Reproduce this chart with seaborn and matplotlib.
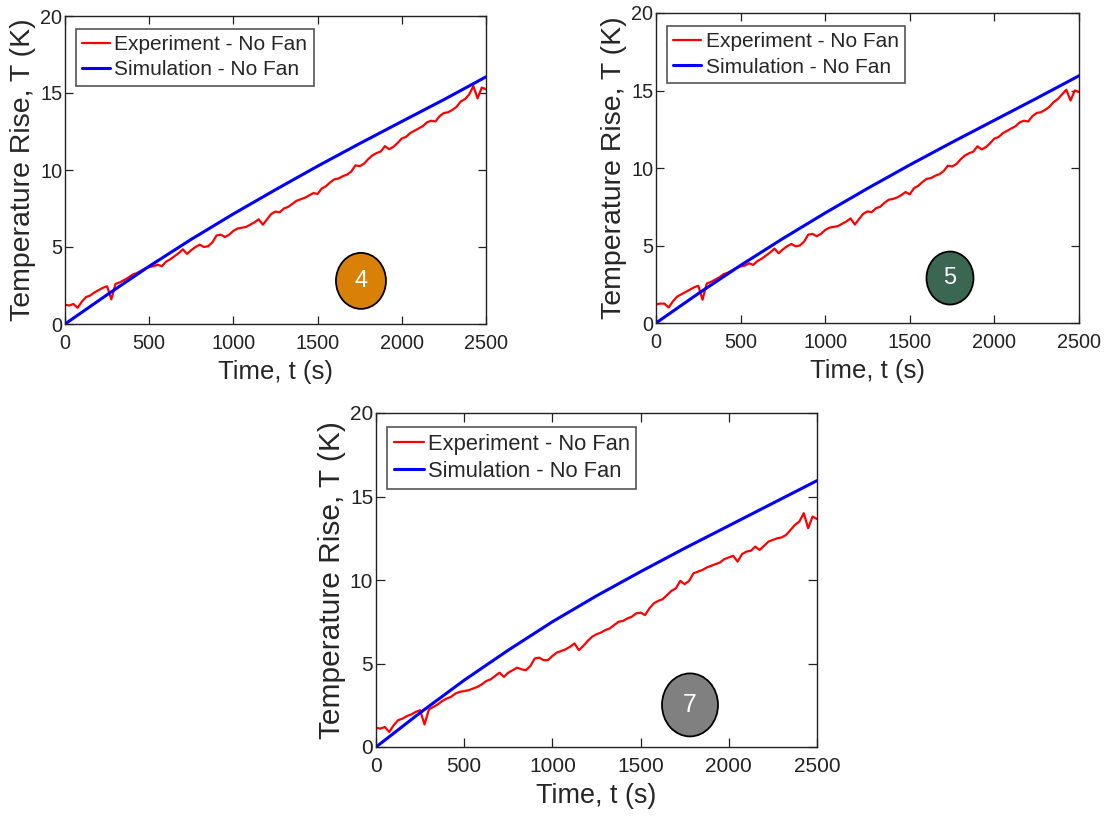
import numpy as np
import pandas as pd
import matplotlib
matplotlib.use("Agg")
import matplotlib.pyplot as plt
from matplotlib.patches import Ellipse
import seaborn as sns

# ---- measured temperature rise (K), sampled every 25 s ----
time_exp = list(range(0, 2501, 25))

exp_case4 = [
    1.25, 1.20, 1.30, 1.05, 1.45, 1.75, 1.85, 2.05, 2.20, 2.35,
    2.45, 1.60, 2.60, 2.70, 2.85, 3.00, 3.20, 3.30, 3.45, 3.60,
    3.70, 3.75, 3.85, 3.75, 4.05, 4.20, 4.40, 4.60, 4.85, 4.55,
    4.80, 5.00, 5.15, 5.00, 5.05, 5.30, 5.75, 5.80, 5.65, 5.80,
    6.05, 6.20, 6.25, 6.30, 6.45, 6.60, 6.80, 6.45, 6.80, 7.15,
    7.30, 7.25, 7.50, 7.60, 7.80, 8.00, 8.10, 8.20, 8.35, 8.50,
    8.45, 8.80, 8.95, 9.20, 9.40, 9.45, 9.60, 9.70, 9.90, 10.30,
    10.25, 10.40, 10.70, 10.95, 11.10, 11.20, 11.55, 11.35, 11.50, 11.75,
    12.05, 12.15, 12.40, 12.55, 12.70, 12.85, 13.10, 13.20, 13.15, 13.50,
    13.70, 13.75, 13.90, 14.10, 14.45, 14.60, 14.90, 15.45, 14.65, 15.35,
    15.25,
]

exp_case5 = [
    1.20, 1.25, 1.25, 1.00, 1.40, 1.70, 1.85, 2.00, 2.15, 2.30,
    2.40, 1.50, 2.55, 2.65, 2.80, 2.95, 3.15, 3.25, 3.40, 3.55,
    3.65, 3.70, 3.85, 3.75, 4.00, 4.15, 4.35, 4.55, 4.80, 4.50,
    4.75, 4.95, 5.10, 4.95, 5.00, 5.25, 5.70, 5.75, 5.60, 5.75,
    6.00, 6.15, 6.20, 6.25, 6.40, 6.55, 6.75, 6.35, 6.70, 7.05,
    7.20, 7.15, 7.40, 7.50, 7.75, 7.95, 8.00, 8.10, 8.25, 8.45,
    8.30, 8.70, 8.85, 9.10, 9.30, 9.35, 9.50, 9.60, 9.80, 10.15,
    10.10, 10.25, 10.55, 10.80, 10.95, 11.05, 11.40, 11.20, 11.35, 11.60,
    11.90, 12.00, 12.25, 12.40, 12.55, 12.70, 12.95, 13.05, 13.00, 13.35,
    13.55, 13.60, 13.75, 13.95, 14.25, 14.45, 14.75, 15.05, 14.35, 15.00,
    14.90,
]

exp_case7 = [
    1.15, 1.10, 1.20, 0.90, 1.30, 1.60, 1.70, 1.85, 1.95, 2.10,
    2.20, 1.35, 2.25, 2.40, 2.55, 2.75, 2.90, 3.00, 3.20, 3.30,
    3.35, 3.40, 3.50, 3.60, 3.75, 3.95, 4.05, 4.25, 4.45, 4.20,
    4.45, 4.60, 4.75, 4.65, 4.60, 4.85, 5.30, 5.35, 5.20, 5.20,
    5.45, 5.65, 5.75, 5.85, 6.00, 6.20, 5.80, 6.05, 6.35, 6.60,
    6.75, 6.85, 7.00, 7.10, 7.30, 7.50, 7.55, 7.70, 7.80, 8.00,
    8.05, 7.90, 8.30, 8.60, 8.75, 8.85, 9.10, 9.35, 9.50, 9.95,
    9.75, 9.95, 10.40, 10.50, 10.60, 10.75, 10.85, 10.95, 11.05, 11.25,
    11.35, 11.45, 11.10, 11.55, 11.70, 11.75, 12.00, 11.80, 12.05, 12.30,
    12.40, 12.50, 12.55, 12.70, 13.00, 13.30, 13.50, 14.00, 13.10, 13.80,
    13.65,
]

# ---- simulated temperature rise (K), sampled every 250 s ----
time_sim = list(range(0, 2501, 250))
sim_case4 = [0.0, 1.90, 3.75, 5.50, 7.15, 8.72, 10.25, 11.72, 13.15, 14.57, 16.05]
sim_case5 = [0.0, 1.90, 3.72, 5.45, 7.10, 8.68, 10.20, 11.66, 13.08, 14.50, 15.95]
sim_case7 = [0.0, 2.05, 4.00, 5.80, 7.50, 9.05, 10.50, 11.90, 13.25, 14.60, 15.95]

case_labels = ["4", "5", "7"]
badge_colors = ["#D98006", "#3B6652", "#808080"]
series_names = ["Experiment - No Fan", "Simulation - No Fan"]
line_colors = {"Experiment - No Fan": "#FF0000", "Simulation - No Fan": "#0000FF"}

x_ticks = [0, 500, 1000, 1500, 2000, 2500]
y_ticks = [0, 5, 10, 15, 20]

sns.set_style("ticks")
plt.rcParams["font.family"] = ["Liberation Sans", "DejaVu Sans"]

fig = plt.figure(figsize=(11.08, 8.17), dpi=100)
W, H = 1108, 817

# panel rectangles in pixels: left, top, right, bottom
panels = [
    dict(box=(65, 16, 486, 324), exp=exp_case4, sim=sim_case4, scale=1.0,
         badge=(0.703, 0.140, 50, 56)),
    dict(box=(656, 13, 1079, 323), exp=exp_case5, sim=sim_case5, scale=1.0,
         badge=(0.695, 0.145, 47, 53)),
    dict(box=(376, 413, 817, 747), exp=exp_case7, sim=sim_case7, scale=1.05,
         badge=(0.712, 0.126, 56, 63)),
]

for p, label, bcolor in zip(panels, case_labels, badge_colors):
    l, t, r, b = p["box"]
    s = p["scale"]
    ax = fig.add_axes([l / W, 1 - b / H, (r - l) / W, (b - t) / H])

    df = pd.concat([
        pd.DataFrame({"t": time_exp, "T": p["exp"], "series": series_names[0]}),
        pd.DataFrame({"t": time_sim, "T": p["sim"], "series": series_names[1]}),
    ], ignore_index=True)

    sns.lineplot(data=df, x="t", y="T", hue="series", hue_order=series_names,
                 palette=line_colors, ax=ax, estimator=None, sort=False)
    for line, lw in zip(ax.get_lines(), [1.6, 2.2]):
        line.set_linewidth(lw)

    ax.set_xlim(0, 2500)
    ax.set_ylim(0, 20)
    ax.set_xticks(x_ticks)
    ax.set_yticks(y_ticks)
    ax.tick_params(direction="in", length=6 * s, width=0.9, top=True, right=True,
                   labelsize=14.3 * s, colors="#222222")
    ax.tick_params(axis="x", pad=7)
    ax.tick_params(axis="y", pad=2)
    for sp in ax.spines.values():
        sp.set_visible(True)
        sp.set_linewidth(1.0)
        sp.set_color("#222222")

    ax.set_xlabel("Time, t (s)", fontsize=18.5 * s, labelpad=5)
    ax.set_ylabel("Temperature Rise, T (K)", fontsize=20.5 * s, labelpad=3)

    handles, labels = ax.get_legend_handles_labels()
    leg = ax.legend(handles, labels, loc="upper left", fontsize=15 * s,
                    frameon=True, fancybox=False, edgecolor="#555555",
                    framealpha=1.0, borderpad=0.3, labelspacing=0.3,
                    handlelength=1.35, handletextpad=0.2,
                    bbox_to_anchor=(0.026, 0.958), borderaxespad=0.0)
    leg.get_frame().set_linewidth(1.2)
    for lh, lw in zip(leg.get_lines(), [1.6, 2.2]):
        lh.set_linewidth(lw)

    cx, cy, bw, bh = p["badge"]
    ax.add_patch(Ellipse((cx, cy), bw / (r - l), bh / (b - t),
                         transform=ax.transAxes, facecolor=bcolor,
                         edgecolor="black", linewidth=1.3, zorder=5))
    ax.text(cx, cy, label, transform=ax.transAxes, ha="center", va="center",
            color="white", fontsize=17 * s, zorder=6)

fig.savefig("out.png", dpi=100)
